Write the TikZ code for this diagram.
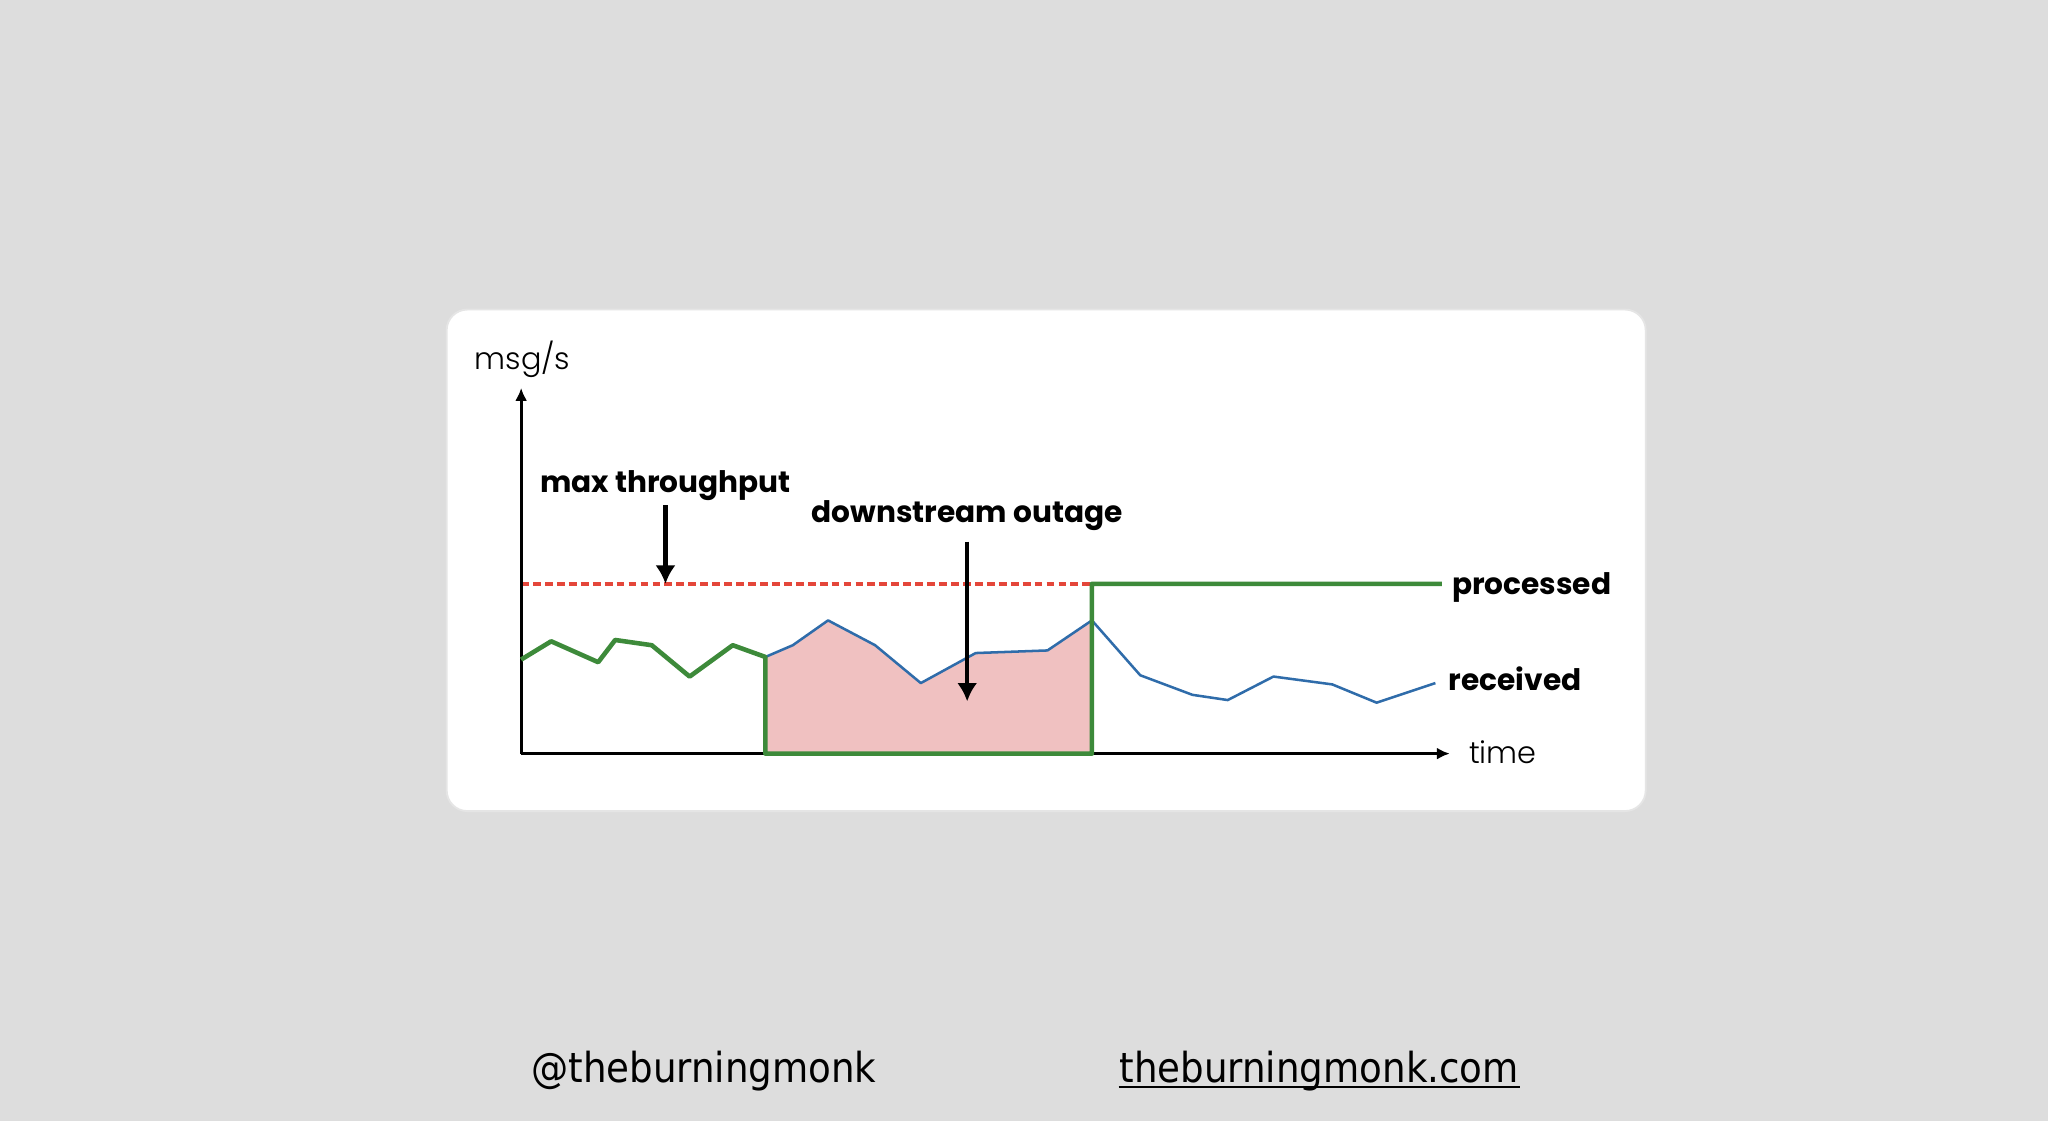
\documentclass[tikz,border=0pt]{standalone}
\usepackage{fontspec}
\setmainfont{Poppins}
\newfontfamily\lightfont{Poppins Light}
\newfontfamily\footfont{DejaVu Sans Condensed}
\usetikzlibrary{arrows.meta,positioning}

\definecolor{slidegray}{HTML}{DDDDDD}
\definecolor{procgreen}{HTML}{3D8A3A}
\definecolor{recvblue}{HTML}{2F6CAA}
\definecolor{maxred}{HTML}{E4463A}
\definecolor{backlog}{HTML}{F0C1C1}

\tikzset{
  axis/.style={line width=0.65pt, -{Latex[length=2.8pt,width=2.6pt]}},
  callout/.style={line width=0.95pt, -{Latex[length=4pt,width=4.4pt]}},
  boldlabel/.style={inner sep=0pt, font=\bfseries\fontsize{6.45}{7.5}\selectfont},
  axislabel/.style={inner sep=0pt, font=\lightfont\fontsize{6.6}{8}\selectfont},
  footer/.style={inner sep=0pt, font=\footfont\fontsize{9}{11}\selectfont},
  processed/.style={procgreen, line width=1pt, line join=round},
  received/.style={recvblue, line width=0.55pt, line join=round},
}

\begin{document}
\begin{tikzpicture}[x={(0.01cm,0)}, y={(0,-0.01cm)}]
  % Slide background and card
  \fill[slidegray] (0,0) rectangle (1568,858);
  \useasboundingbox (0,0) rectangle (1568,858);
  \draw[black!10, fill=white, rounded corners=4.5pt] (342,237) rectangle (1260,621);

  % Define coordinates
  \coordinate (O) at (399,577);
  \coordinate (ytop) at (399,297);
  \coordinate (xend) at (1110,577);
  \coordinate (down) at (586,503);
  \coordinate (up) at (836,475);
  \coordinate (proc) at (1104,447);
  \coordinate (recv) at (1099,523);
  \coordinate (maxtip) at (509.5,447);
  \coordinate (outtip) at (740.5,537);

  % Backlog during the outage
  \fill[backlog] (down) -- (607,494) -- (634,475) -- (670,494) -- (705,523)
    -- (747,500) -- (802,498) -- (up) -- (836,577) -- (586,577) -- cycle;

  % Max throughput
  \draw[maxred, line width=0.75pt, dash pattern=on 1.7pt off 0.9pt] (399,447) -- (836,447);

  % Axes
  \draw[axis] (O) -- (ytop);
  \draw[axis] (O) -- (xend);

  % Received
  \draw[received] (down) -- (607,494) -- (634,475) -- (670,494) -- (705,523)
    -- (747,500) -- (802,498) -- (up) -- (873,517) -- (913,532) -- (940,536)
    -- (975,518) -- (1020,524) -- (1054,538) -- (recv);

  % Processed
  \draw[processed] (399,505) -- (422,491) -- (458,507) -- (471,490) -- (499,494)
    -- (528,518) -- (561,494) -- (down) -- (586,577) -- (836,577) -- (836,447) -- (proc);

  % Labels
  \node[axislabel, anchor=base] (ylab) at (400,283) {msg/s};
  \node[axislabel, anchor=base west] (xlab) at (1124,584.5) {time};
  \node[boldlabel, anchor=base] (maxlab) at (509.5,377) {max throughput};
  \node[boldlabel, anchor=base] (outlab) at (740.5,400) {downstream outage};
  \node[boldlabel, anchor=base west] (proclab) at (1111,455.5) {processed};
  \node[boldlabel, anchor=base west] (recvlab) at (1108.5,528.5) {received};

  % Callout arrows
  \draw[callout, shorten <=0.8pt] (maxlab.south) -- (maxtip);
  \draw[callout, shorten <=2.2pt] (outlab.south) -- (outtip);

  % Footer
  \node[footer, anchor=base west] (handle) at (406,829) {@theburningmonk};
  \node[footer, anchor=base west] (site) at (856.5,829) {theburningmonk.com};
  \draw[line width=0.6pt] ([yshift=-0.9pt]site.base west) -- ([yshift=-0.9pt]site.base east);
\end{tikzpicture}
\end{document}
